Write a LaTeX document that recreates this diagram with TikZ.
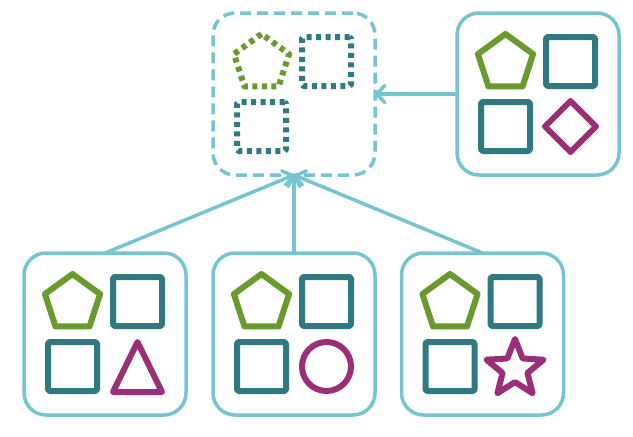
\documentclass[tikz,border=0pt]{standalone}
\usetikzlibrary{shapes.geometric,arrows.meta}
\definecolor{frame}{HTML}{75C4CF}
\definecolor{pteal}{HTML}{2F7A80}
\definecolor{pgreen}{HTML}{6A992E}
\definecolor{pmag}{HTML}{9A2F78}
\begin{document}
\begin{tikzpicture}[x=1pt,y=-1pt,
  box/.style={draw=frame,line width=3.5pt,rounded corners=22pt,minimum width=162pt,minimum height=162pt,inner sep=0pt,outer sep=0pt},
  dbox/.style={box,dash pattern=on 11pt off 6pt},
  shp/.style={line width=6pt,line join=round,inner sep=0pt,outer sep=0pt},
  dots/.style={dash pattern=on 5pt off 4.5pt},
  pent/.style={shp,draw=pgreen,regular polygon,regular polygon sides=5,minimum size=58pt},
  sq/.style={shp,draw=pteal,rectangle,minimum size=49pt,rounded corners=1.5pt},
  tri/.style={shp,draw=pmag},
  circ/.style={shp,draw=pmag,circle,minimum size=49pt},
  starsh/.style={shp,draw=pmag,star,star points=5,star point ratio=2.3,minimum size=60pt},
  diam/.style={shp,draw=pmag,diamond,aspect=1,minimum width=51pt,minimum height=51pt},
  arr/.style={draw=frame,line width=3.5pt,-{Straight Barb[round,length=8pt,width=17pt]}}
]
\useasboundingbox (0,0) rectangle (633,437);

% boxes
\node[dbox] (top) at (294,94) {};
\node[box] (tr) at (538,94) {};
\node[box] (bl) at (105,334) {};
\node[box] (bm) at (294,334) {};
\node[box] (br) at (482.5,334) {};

% dashed box content
\node[pent,dots] (tp) at (261.5,63) {};
\node[sq,dots] (ts1) at (326.5,61.5) {};
\node[sq,dots] (ts2) at (261.5,126.5) {};

% top right content
\node[pent] (rp) at (505.5,63) {};
\node[sq] (rs1) at (570.5,61.5) {};
\node[sq] (rs2) at (505.5,126.5) {};
\node[diam] (rd) at (570.5,126.5) {};

% bottom left content
\node[pent] (lp) at (72.5,303) {};
\node[sq] (ls1) at (137.5,301.5) {};
\node[sq] (ls2) at (72.5,366.5) {};
\coordinate (ta) at (137.5,342);
\coordinate (tb) at (113,392);
\coordinate (tc) at (162,392);
\draw[tri] (ta) -- (tb) -- (tc) -- cycle;

% bottom middle content
\node[pent] (mp) at (261.5,303) {};
\node[sq] (ms1) at (326.5,301.5) {};
\node[sq] (ms2) at (261.5,366.5) {};
\node[circ] (mc) at (326.5,366.5) {};

% bottom right content
\node[pent] (bp) at (450,303) {};
\node[sq] (bs1) at (515,301.5) {};
\node[sq] (bs2) at (450,366.5) {};
\node[starsh] (bstar) at (515,369) {};

% arrows
\draw[arr] (tr.west) -- (top.east);
\draw[arr] (bl.north) -- (top.south);
\draw[arr] (bm.north) -- (top.south);
\draw[arr] (br.north) -- (top.south);
\end{tikzpicture}
\end{document}
